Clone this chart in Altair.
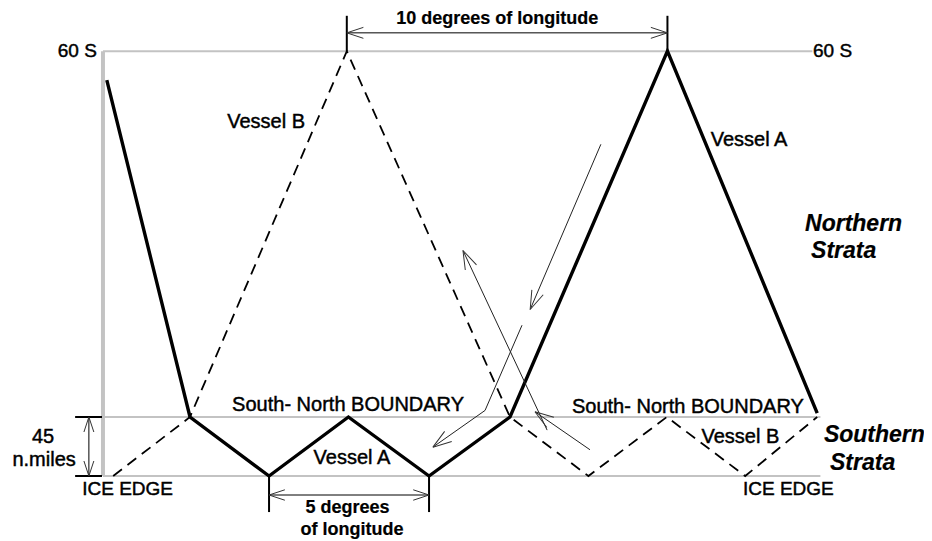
import math
import altair as alt
import pandas as pd

# ---- data (longitude offset in degrees, distance north of ice edge in n.miles) ----
vessel_a_lon = [-2.6, 0.0, 2.47, 4.95, 7.47, 10.0, 14.92, 19.6]
vessel_a_nm = [302, 45, 0, 45, 0, 45, 324, 48]
vessel_b_lon = [-2.4, 0.0, 4.9, 10.0, 12.45, 14.9, 17.35, 19.6]
vessel_b_nm = [0, 45, 324, 45, 0, 45, 0, 45]

LAT60_NM = 324      # 60 S
BOUNDARY_NM = 45    # south-north boundary
ICE_NM = 0          # ice edge
LEFT_LON = -2.72
RIGHT_LON = 19.7
TOP_RIGHT_LON = 19.45

# thin annotation arrows (polylines, head at the last point)
arrow_id = [1, 1, 2, 2, 3, 3, 3, 4, 4]
arrow_lon = [12.84, 10.63, 11.16, 8.53, 10.375, 9.22, 7.59, 12.5, 10.78]
arrow_nm = [253, 127, 35, 172, 115, 50, 22, 20, 49]

# labels
lbl_text = ["60 S", "60 S", "Vessel B", "Vessel A", "South- North BOUNDARY",
            "South- North BOUNDARY", "Vessel A", "Vessel B", "ICE EDGE", "ICE EDGE",
            "45", "n.miles", "10 degrees of longitude", "5 degrees", "of longitude",
            "Northern", "Strata", "Southern", "Strata"]
lbl_lon = [-2.91, 19.47, 2.38, 17.47, 4.94, 15.56, 5.06, 17.2, -1.95, 18.7,
           -4.59, -4.56, 9.6, 4.92, 5.06, 19.22, 19.41, 19.81, 20.0]
lbl_nm = [324, 324, 270, 256, 54, 52.5, 13.5, 30, -10, -10,
          30, 12, 348.5, -24.5, -41, 192, 171.5, 31.3, 9.9]
lbl_kind = ["reg_r", "reg_l", "reg_c", "reg_c", "reg_c", "reg_c", "reg_c", "reg_c",
            "reg_c", "reg_c", "reg_c", "reg_c", "bold_c", "bold_c", "bold_c",
            "bi_l", "bi_l", "bi_l", "bi_l"]
lbl_size = [19, 19, 20, 20, 20, 20, 20, 20, 19, 19, 20, 20, 18, 18, 18, 23, 23, 23, 23]

# ---- layout (pixel mapping) ----
W, H = 916, 533
PX_PER_DEG = 32.0
PX_PER_NM = 59.0 / 45.0
X0 = 182.0   # chart-x of lon 0
Y0 = 468.0   # chart-y of ice edge
x_scale = alt.Scale(domain=[-X0 / PX_PER_DEG, (W - X0) / PX_PER_DEG], nice=False, zero=False)
y_scale = alt.Scale(domain=[(Y0 - H) / PX_PER_NM, Y0 / PX_PER_NM], nice=False, zero=False)

def X(f="lon"):
    return alt.X(f"{f}:Q", scale=x_scale, axis=None)

def Y(f="nm"):
    return alt.Y(f"{f}:Q", scale=y_scale, axis=None)

# ---- segment table ----
seg_rows = [
    # grey reference lines
    (LEFT_LON, LAT60_NM, TOP_RIGHT_LON, LAT60_NM, 2, "#c3c3c3"),
    (LEFT_LON, BOUNDARY_NM, RIGHT_LON, BOUNDARY_NM, 2, "#c3c3c3"),
    (LEFT_LON, ICE_NM, RIGHT_LON, ICE_NM, 2, "#c3c3c3"),
    (LEFT_LON, ICE_NM, LEFT_LON, LAT60_NM, 4, "#c3c3c3"),
]
dim_rows = [
    (4.9, LAT60_NM, 4.9, 351, 2, "#000000"),
    (14.92, LAT60_NM, 14.92, 351, 2, "#000000"),
    (2.47, ICE_NM, 2.47, -27.5, 2, "#000000"),
    (7.47, ICE_NM, 7.47, -27.5, 2, "#000000"),
    (-3.59, BOUNDARY_NM, -2.75, BOUNDARY_NM, 2, "#000000"),
    (-3.59, ICE_NM, -2.75, ICE_NM, 2, "#000000"),
    (4.9, 338, 14.92, 338, 1, "#000000"),
    (2.47, -14.5, 7.47, -14.5, 1, "#000000"),
    (-3.16, ICE_NM, -3.16, BOUNDARY_NM, 1, "#000000"),
]
cols = ["lon", "nm", "lon2", "nm2", "w", "c"]
grey_df = pd.DataFrame(seg_rows, columns=cols)
dim_df = pd.DataFrame(dim_rows, columns=cols)

def seg_layer(df):
    return alt.Chart(df).mark_rule().encode(
        x=X(), y=Y(), x2="lon2:Q", y2="nm2:Q",
        strokeWidth=alt.StrokeWidth("w:Q", scale=None),
        color=alt.Color("c:N", scale=None),
    )

# ---- vessels ----
va = pd.DataFrame({"lon": vessel_a_lon, "nm": vessel_a_nm, "i": range(len(vessel_a_lon))})
vb = pd.DataFrame({"lon": vessel_b_lon, "nm": vessel_b_nm, "i": range(len(vessel_b_lon))})
line_a = alt.Chart(va).mark_line(color="black", strokeWidth=3.4, strokeJoin="miter").encode(
    x=X(), y=Y(), order="i:Q")
line_b = alt.Chart(vb).mark_line(color="black", strokeWidth=1.8, strokeDash=[11, 7]).encode(
    x=X(), y=Y(), order="i:Q")

# ---- thin arrows ----
arr = pd.DataFrame({"id": arrow_id, "lon": arrow_lon, "nm": arrow_nm})
arr["i"] = range(len(arr))
thin = alt.Chart(arr).mark_line(color="#222222", strokeWidth=1).encode(
    x=X(), y=Y(), detail="id:N", order="i:Q")

def screen_angle(lon1, nm1, lon2, nm2):
    dx = (lon2 - lon1) * PX_PER_DEG
    dy = -(nm2 - nm1) * PX_PER_NM
    return math.degrees(math.atan2(dy, dx)) % 360

heads = []
for k in sorted(set(arrow_id)):
    pts = [(lo, n) for a, lo, n in zip(arrow_id, arrow_lon, arrow_nm) if a == k]
    (l1, n1), (l2, n2) = pts[-2], pts[-1]
    heads.append((l2, n2, screen_angle(l1, n1, l2, n2), 1400))
# dimension arrowheads
heads += [
    (4.9, 338, 180, 1100), (14.92, 338, 0, 1100),
    (2.47, -14.5, 180, 1000), (7.47, -14.5, 0, 1000),
    (-3.16, BOUNDARY_NM, 270, 900), (-3.16, ICE_NM, 90, 900),
]
heads_df = pd.DataFrame(heads, columns=["lon", "nm", "ang", "sz"])
head_layer = alt.Chart(heads_df).mark_point(
    shape="M0,0L-1,-0.33M0,0L-1,0.33", filled=False, color="#333333",
    strokeWidth=1, opacity=1,
).encode(x=X(), y=Y(), angle=alt.Angle("ang:Q", scale=None),
         size=alt.Size("sz:Q", scale=None))

# ---- labels ----
lbl = pd.DataFrame({"text": lbl_text, "lon": lbl_lon, "nm": lbl_nm,
                    "kind": lbl_kind, "size": lbl_size})
FONT = "Liberation Sans"

def text_layer(kind, align, weight, style, sw):
    d = lbl[lbl["kind"] == kind]
    return alt.Chart(d).mark_text(
        align=align, baseline="middle", font=FONT, fontWeight=weight,
        fontStyle=style, color="black", stroke="black", strokeWidth=sw,
    ).encode(x=X(), y=Y(), text="text:N", size=alt.Size("size:Q", scale=None))

texts = [
    text_layer("reg_c", "center", "normal", "normal", 0.45),
    text_layer("reg_r", "right", "normal", "normal", 0.45),
    text_layer("reg_l", "left", "normal", "normal", 0.45),
    text_layer("bold_c", "center", "bold", "normal", 0.2),
    text_layer("bi_l", "left", "bold", "italic", 0.2),
]

chart = alt.layer(
    seg_layer(grey_df), line_b, line_a, thin, seg_layer(dim_df), head_layer, *texts
).properties(
    width=W, height=H, padding=0,
    autosize=alt.AutoSizeParams(type="none"),
    background="white",
).configure_view(stroke=None)

chart.save("out.html", embed_options={"renderer": "svg", "actions": False})
